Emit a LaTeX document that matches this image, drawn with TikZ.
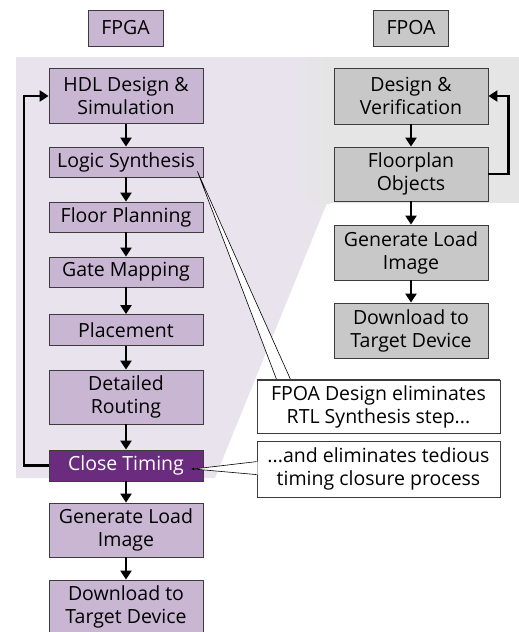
\documentclass[tikz,border=0pt]{standalone}
\usepackage{fontspec}
\setmainfont{Open Sans}
\usetikzlibrary{arrows.meta}
\definecolor{lav}{RGB}{201,182,211}
\definecolor{plum}{RGB}{107,44,127}
\definecolor{gry}{RGB}{200,200,200}
\definecolor{bgpurple}{RGB}{233,227,238}
\definecolor{bggray}{RGB}{229,229,229}
\definecolor{boxline}{RGB}{60,60,60}

\begin{document}
\begin{tikzpicture}[x=1pt,y=-1pt,font=\fontsize{19.5}{23}\selectfont,
	stepbox/.style={draw=boxline, line width=.8pt, fill=lav, minimum width=154pt, inner sep=0pt, align=center},
	rightbox/.style={draw=boxline, line width=.8pt, fill=gry, minimum width=154pt, minimum height=55pt, inner sep=0pt, align=center},
	hdrbox/.style={draw=boxline, line width=.8pt, minimum width=75pt, minimum height=36pt, inner sep=0pt},
	notebox/.style={draw=boxline, line width=.8pt, fill=white, minimum width=243pt, inner sep=0pt, align=center},
	flow/.style={line width=2.2pt, -{Triangle[length=9pt,width=11pt]}},
	wedge/.style={line width=.6pt, draw=black}]
	\clip (0,0) rectangle (519,632);
	
	% draw background
	\fill[bgpurple] (16,57) -- (519,57) -- (519,203) -- (327,203) -- (215,478) -- (16,478) -- cycle;
	\shade[left color=bgpurple, right color=bggray] (285,57) rectangle (330,203);
	\fill[bggray] (330,57) rectangle (519,203);
	
	% draw headers
	\node[hdrbox, fill=lav] (fpga) at (125.5,28) {FPGA};
	\node[hdrbox, fill=gry] (fpoa) at (411,28) {FPOA};
	
	% draw fpga flow
	\node[stepbox, minimum height=55pt] (hdl) at (126,96) {HDL Design \&\\Simulation};
	\node[stepbox, minimum height=30pt] (synth) at (126,162) {Logic Synthesis};
	\node[stepbox, minimum height=30pt] (floor) at (126,217) {Floor Planning};
	\node[stepbox, minimum height=30pt] (gate) at (126,272) {Gate Mapping};
	\node[stepbox, minimum height=31pt] (place) at (126,330) {Placement};
	\node[stepbox, minimum height=54pt] (route) at (126,397) {Detailed\\Routing};
	\node[stepbox, minimum height=31pt, fill=plum, text=white] (close) at (126,465.5) {Close Timing};
	\node[stepbox, minimum height=54pt] (genl) at (126,530) {Generate Load\\Image};
	\node[stepbox, minimum height=54pt] (dll) at (126,607) {Download to\\Target Device};
	
	\draw[flow] (hdl) -- (synth);
	\draw[flow] (synth) -- (floor);
	\draw[flow] (floor) -- (gate);
	\draw[flow] (gate) -- (place);
	\draw[flow] (place) -- (route);
	\draw[flow] (route) -- (close);
	\draw[flow] (close) -- (genl);
	\draw[flow] (genl) -- (dll);
	\draw[flow] (close.west) -- ++(-25,0) |- (hdl.west);
	
	% draw fpoa flow
	\node[rightbox, minimum height=56pt] (dver) at (411,96) {Design \&\\Verification};
	\node[rightbox, minimum height=54pt] (fobj) at (411,174) {Floorplan\\Objects};
	\node[rightbox] (genr) at (411,252.5) {Generate Load\\Image};
	\node[rightbox] (dlr) at (411,330.5) {Download to\\Target Device};
	
	\draw[flow] (dver) -- (fobj);
	\draw[flow] (fobj) -- (genr);
	\draw[flow] (genr) -- (dlr);
	\draw[flow] (fobj.east) -- ++(20,0) |- (dver.east);
	
	% draw callouts
	\node[notebox, minimum height=53pt] (note1) at (378.5,406.5) {FPOA Design eliminates\\RTL Synthesis step...};
	\node[notebox, minimum height=56pt] (note2) at (378.5,469) {...and eliminates tedious\\timing closure process};
	
	\coordinate (tip1) at ([xshift=-6pt,yshift=6pt]synth.south east);
	\coordinate (w1a) at ([xshift=20pt]note1.north west);
	\coordinate (w1b) at ([xshift=34pt]note1.north west);
	\filldraw[wedge, fill=white] (tip1) -- (w1a) -- (w1b) -- cycle;
	\draw[line width=.8pt, draw=boxline] (note1.north west) -- (note1.north east);
	
	\coordinate (tip2) at ([xshift=-10pt,yshift=-3.5pt]close.east);
	\coordinate (w2a) at ([yshift=-21pt]note2.north west);
	\coordinate (w2b) at ([yshift=-34pt]note2.north west);
	\fill[white] (tip2) -- ([xshift=1pt]w2a) -- ([xshift=1pt]w2b) -- cycle;
	\draw[wedge] (w2a) -- (tip2) -- (w2b);
	\fill[black] (tip2) circle (1.2pt);
\end{tikzpicture}
\end{document}
